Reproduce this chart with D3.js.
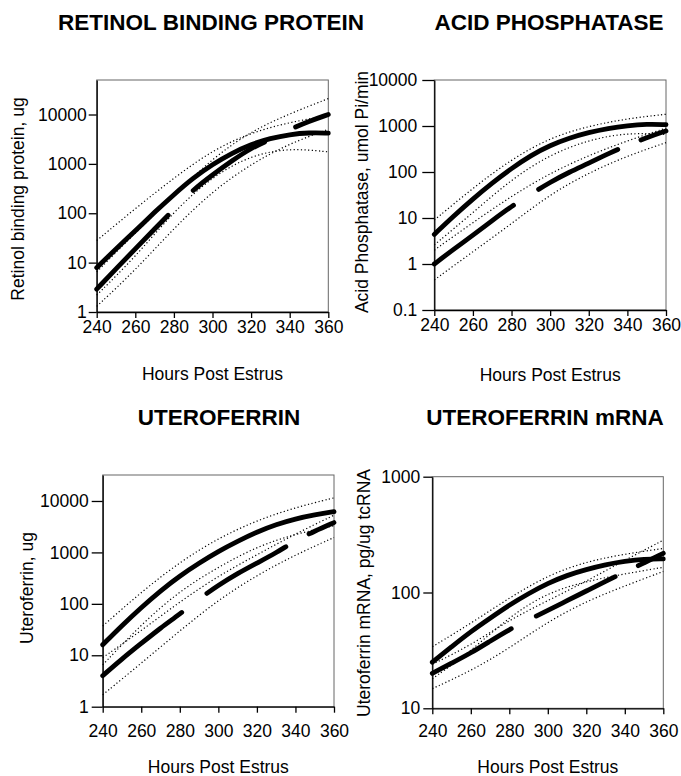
<!DOCTYPE html>
<html lang="en">
<head>
    <meta charset="UTF-8">
    <title>Uterine secretions by hours post estrus</title>
    <script src="https://d3js.org/d3.v7.min.js"></script>
    <style>
        body {
            margin: 0;
            background: #fff;
        }
        svg {
            display: block;
            font-family: "Liberation Sans", Arial, sans-serif;
        }
        .title {
            font-size: 22.5px;
            font-weight: bold;
        }
        .axis text {
            font-size: 17.5px;
            fill: #000;
        }
        .axis path, .axis line {
            stroke: #000;
            stroke-width: 1.3;
        }
        .label {
            font-size: 17.5px;
        }
    </style>
</head>
<body>
<svg id="chart" width="681" height="776"></svg>
<script>
    // hours at which the curves were read
    const hoursFine = [240, 250, 260, 270, 280, 290, 300, 310, 320, 330, 340, 350, 360];
    const hoursCoarse = [240, 260, 280, 300, 320, 340, 360];
    const xTicks = [240, 260, 280, 300, 320, 340, 360];

    // retinol binding protein, ug
    const rbpUpper = [7.9, 19, 44, 105, 240, 520, 980, 1650, 2500, 3300, 3950, 4300, 4200];
    const rbpLower = [2.9, 7.5, 19, 48, 120, 300, 600, 1150, 2100, 3100, 5000, 7300, 10000];
    const rbpUpperHi = [28, 125, 520, 1900, 4300, 7000, 9500];
    const rbpUpperLo = [2.2, 13, 110, 560, 1500, 2100, 1750];
    const rbpLowerHi = [6.5, 40, 230, 1300, 4600, 10400, 21000];
    const rbpLowerLo = [1.3, 7, 50, 280, 1000, 2600, 5000];
    const rbpDashes = [[240, 277], [290, 327], [343, 360]];

    // acid phosphatase, umol Pi/min
    const acpUpper = [4.4, 11, 26, 58, 120, 230, 380, 550, 725, 890, 1020, 1100, 1070];
    const acpLower = [1.0, 2.1, 4.2, 8.8, 18, 33, 60, 100, 155, 250, 380, 560, 780];
    const acpUpperHi = [9, 45, 190, 560, 1000, 1450, 1800];
    const acpUpperLo = [2.6, 13, 70, 240, 500, 720, 650];
    const acpLowerHi = [2, 8, 30, 95, 230, 480, 900];
    const acpLowerLo = [0.45, 1.85, 7.5, 33, 96, 225, 435];
    const acpDashes = [[240, 281], [294, 335], [347, 360]];

    // uteroferrin, ug
    const ufUpper = [16, 38, 85, 180, 350, 620, 1050, 1650, 2500, 3500, 4500, 5400, 6200];
    const ufLower = [4, 8.5, 17, 34, 63, 125, 230, 390, 620, 980, 1700, 2600, 3800];
    const ufUpperHi = [37, 170, 650, 1900, 4200, 7500, 11500];
    const ufUpperLo = [6.5, 40, 180, 520, 1300, 2300, 3300];
    const ufLowerHi = [9, 30, 110, 350, 900, 2300, 5300];
    const ufLowerLo = [1.7, 7, 30, 120, 360, 900, 1950];
    const ufDashes = [[240, 281], [294, 335], [347, 360]];

    // uteroferrin mRNA, pg/ug tcRNA
    const ufmUpper = [25, 34, 46, 60, 78, 98, 120, 141, 158, 174, 186, 195, 195];
    const ufmLower = [20, 24.5, 30, 38, 48, 58, 70, 85, 103, 125, 150, 180, 218];
    const ufmUpperHi = [34, 54, 90, 141, 185, 215, 240];
    const ufmUpperLo = [18, 31, 62, 100, 125, 145, 165];
    const ufmLowerHi = [24, 35, 58, 85, 125, 190, 283];
    const ufmLowerLo = [14.8, 21, 33, 56, 84, 114, 152];
    const ufmDashes = [[240, 281], [294, 335], [347, 360]];

    const titles = ['RETINOL BINDING PROTEIN', 'ACID PHOSPHATASE', 'UTEROFERRIN', 'UTEROFERRIN mRNA'];
    const yLabels = ['Retinol binding protein, ug', 'Acid Phosphatase, umol Pi/min', 'Uteroferrin, ug', 'Uteroferrin mRNA, pg/ug tcRNA'];
    const yDomains = [[1, 50000], [0.1, 10000], [1, 32000], [10, 1000]];
    const yTickValues = [
        [1, 10, 100, 1000, 10000],
        [0.1, 1, 10, 100, 1000, 10000],
        [1, 10, 100, 1000, 10000],
        [10, 100, 1000]
    ];

    const panels = [
        { series: [rbpUpper, rbpLower], bands: [rbpUpperHi, rbpUpperLo, rbpLowerHi, rbpLowerLo], dashes: rbpDashes,
          box: { left: 96.7, right: 328.3, top: 80, bottom: 312 },
          titleX: 211, titleY: 30, yLabelX: 18, yLabelY: 199, yTickSize: 8, yTickPad: 2, xTickPad: 3, xTitleY: 380 },
        { series: [acpUpper, acpLower], bands: [acpUpperHi, acpUpperLo, acpLowerHi, acpLowerLo], dashes: acpDashes,
          box: { left: 434.3, right: 666, top: 80, bottom: 310 },
          titleX: 549, titleY: 30, yLabelX: 362, yLabelY: 192, yTickSize: 12, yTickPad: 5, xTickPad: 3, xTitleY: 381 },
        { series: [ufUpper, ufLower], bands: [ufUpperHi, ufUpperLo, ufLowerHi, ufLowerLo], dashes: ufDashes,
          box: { left: 102.7, right: 334, top: 475, bottom: 706.7 },
          titleX: 219, titleY: 425, yLabelX: 27, yLabelY: 588, yTickSize: 11, yTickPad: 3, xTickPad: 12, xTitleY: 773 },
        { series: [ufmUpper, ufmLower], bands: [ufmUpperHi, ufmUpperLo, ufmLowerHi, ufmLowerLo], dashes: ufmDashes,
          box: { left: 432.3, right: 663.3, top: 476.7, bottom: 708.3 },
          titleX: 545, titleY: 425, yLabelX: 364, yLabelY: 593, yTickSize: 9, yTickPad: 3, xTickPad: 10, xTitleY: 773 }
    ];

    const svg = d3.select('#chart');
    svg.append('rect').attr('width', 681).attr('height', 776).attr('fill', '#fff');

    panels.forEach((p, i) => {
        const x = d3.scaleLinear().domain([240, 360]).range([p.box.left, p.box.right]);
        const y = d3.scaleLog().domain(yDomains[i]).range([p.box.bottom, p.box.top]);
        const g = svg.append('g');

        // light frame round the plot area
        g.append('rect')
            .attr('x', x(240))
            .attr('y', y(yDomains[i][1]))
            .attr('width', x(360) - x(240))
            .attr('height', y(yDomains[i][0]) - y(yDomains[i][1]))
            .attr('fill', 'none')
            .attr('stroke', '#666')
            .attr('stroke-width', 1);

        // confidence curves (dotted)
        const lineCoarse = d3.line()
            .x((d, k) => x(hoursCoarse[k]))
            .y(d => y(d))
            .curve(d3.curveBasis);

        p.bands.forEach(b => {
            g.append('path')
                .attr('d', lineCoarse(b))
                .attr('fill', 'none')
                .attr('stroke', '#000')
                .attr('stroke-width', 1.2)
                .attr('stroke-dasharray', '1.2,2.4');
        });

        const lineFine = d3.line()
            .x((d, k) => x(hoursFine[k]))
            .y(d => y(d))
            .curve(d3.curveBasis);

        g.append('path')
            .attr('d', lineFine(p.series[0]))
            .attr('fill', 'none')
            .attr('stroke', '#000')
            .attr('stroke-width', 4.8)
            .attr('stroke-linecap', 'round');

        const lower = g.append('path')
            .attr('d', lineFine(p.series[1]))
            .attr('fill', 'none')
            .attr('stroke', '#000')
            .attr('stroke-width', 4.8)
            .attr('stroke-linecap', 'round');

        // turn the hour ranges of the dashes into lengths along the path
        const node = lower.node();
        const total = node.getTotalLength();
        const lenAt = h => {
            const tx = x(h);
            let lo = 0, hi = total;
            for (let k = 0; k < 40; k++) {
                const mid = (lo + hi) / 2;
                if (node.getPointAtLength(mid).x < tx) lo = mid; else hi = mid;
            }
            return lo;
        };
        const cuts = p.dashes.flatMap(s => [lenAt(s[0]), lenAt(s[1])]);
        const pattern = [];
        for (let k = 1; k < cuts.length; k++) pattern.push(cuts[k] - cuts[k - 1]);
        pattern.push(total + 20);
        lower.attr('stroke-dasharray', pattern.join(' '))
            .attr('stroke-dashoffset', -cuts[0]);

        // axes
        g.append('g')
            .attr('class', 'axis')
            .attr('transform', `translate(0,${p.box.bottom})`)
            .call(d3.axisBottom(x)
                .tickValues(xTicks)
                .tickSize(6)
                .tickSizeOuter(0)
                .tickPadding(p.xTickPad)
                .tickFormat(d3.format('d')));

        g.append('g')
            .attr('class', 'axis')
            .attr('transform', `translate(${p.box.left},0)`)
            .call(d3.axisLeft(y)
                .tickValues(yTickValues[i])
                .tickSize(p.yTickSize)
                .tickSizeOuter(0)
                .tickPadding(p.yTickPad)
                .tickFormat(d => String(d)));

        g.append('text')
            .attr('class', 'title')
            .attr('x', p.titleX)
            .attr('y', p.titleY)
            .attr('text-anchor', 'middle')
            .text(titles[i]);

        g.append('text')
            .attr('class', 'label')
            .attr('x', (p.box.left + p.box.right) / 2)
            .attr('y', p.xTitleY)
            .attr('text-anchor', 'middle')
            .text('Hours Post Estrus');

        g.append('text')
            .attr('class', 'label')
            .attr('transform', `translate(${p.yLabelX},${p.yLabelY}) rotate(-90)`)
            .attr('dy', '0.35em')
            .attr('text-anchor', 'middle')
            .text(yLabels[i]);
    });
</script>
</body>
</html>
